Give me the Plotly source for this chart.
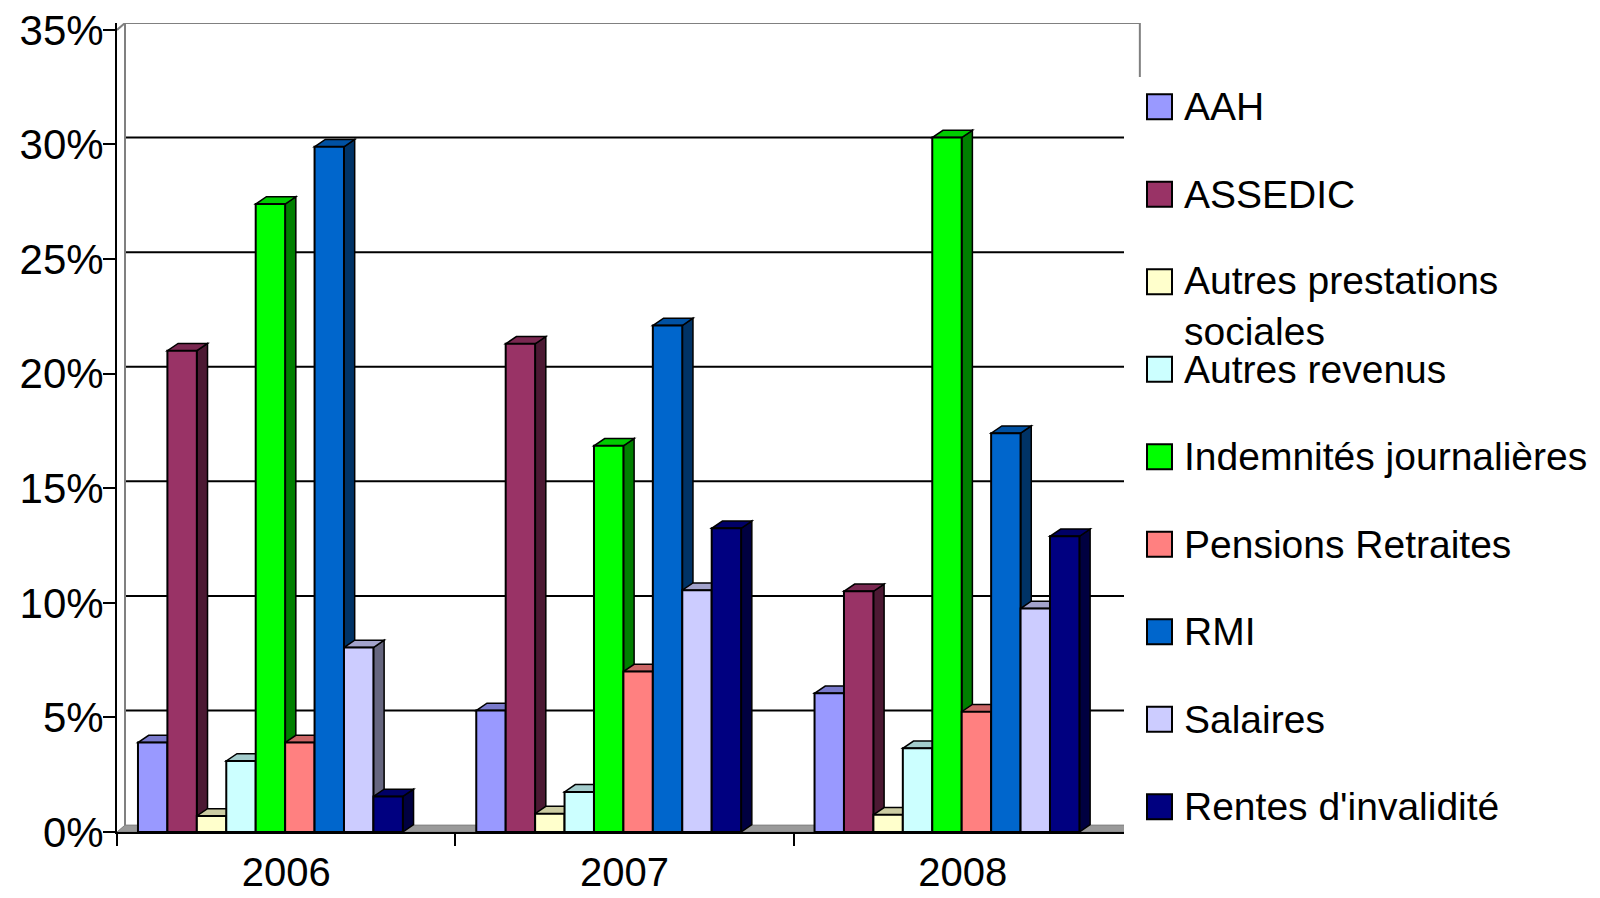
import plotly.graph_objects as go

years = ["2006", "2007", "2008"]
series_names = [
    "AAH",
    "ASSEDIC",
    "Autres prestations<br>sociales",
    "Autres revenus",
    "Indemnités journalières",
    "Pensions Retraites",
    "RMI",
    "Salaires",
    "Rentes d'invalidité",
]
aah = [3.9, 5.3, 6.05]
assedic = [21.0, 21.3, 10.5]
autres_prestations = [0.7, 0.8, 0.75]
autres_revenus = [3.1, 1.75, 3.65]
indemnites = [27.4, 16.85, 30.3]
pensions = [3.9, 7.0, 5.25]
rmi = [29.9, 22.1, 17.4]
salaires = [8.05, 10.55, 9.75]
rentes = [1.55, 13.25, 12.9]
y_ticks = [0, 5, 10, 15, 20, 25, 30, 35]

series_values = [aah, assedic, autres_prestations, autres_revenus, indemnites,
                 pensions, rmi, salaires, rentes]
colors = ["#9999FF", "#993366", "#FFFFCC", "#CCFFFF", "#00FF00",
          "#FF8080", "#0066CC", "#CCCCFF", "#000080"]

FONT = "Liberation Sans, Arial, sans-serif"


def shade(hex_color, f):
    r, g, b = (int(hex_color[k:k + 2], 16) for k in (1, 3, 5))
    return "#%02x%02x%02x" % (int(r * f), int(g * f), int(b * f))


# pixel geometry of the plot area
W, H = 1600, 898
L, R, T, B = 117, 458, 23, 66
x_range = [-0.5, 2.53]
y_range = [0, 35.3]
px_x = (W - L - R) / (x_range[1] - x_range[0])
px_y = (H - T - B) / (y_range[1] - y_range[0])

bar_w = 0.087
group_start = -0.438
dx, dy = 10.7 / px_x, 7.3 / px_y      # bar depth
dxw, dyw = 8 / px_x, 0.3              # wall depth

fig = go.Figure()
shapes = []

# floor
shapes.append(dict(type="path", xref="x", yref="y", layer="below",
                   path=f"M-0.5,0 L2.5,0 L{2.5 + dxw},{dyw} L{-0.5 + dxw},{dyw} Z",
                   fillcolor="#9a9a9a", line=dict(color="#808080", width=1)))
# back wall gridlines
for v in y_ticks[1:-1]:
    shapes.append(dict(type="line", xref="x", yref="y", layer="below",
                       x0=-0.5 + dxw, x1=2.5 + dxw, y0=v + dyw, y1=v + dyw,
                       line=dict(color="black", width=2)))
# wall edges
wall = "#808080"
top = y_ticks[-1]
shapes.append(dict(type="line", xref="x", yref="y", layer="below",
                   x0=-0.5 + dxw, x1=2.5 + dxw, y0=top + dyw, y1=top + dyw,
                   line=dict(color=wall, width=2)))
shapes.append(dict(type="line", xref="x", yref="y", layer="below",
                   x0=2.5 + dxw, x1=2.5 + dxw, y0=dyw, y1=top + dyw,
                   line=dict(color=wall, width=2)))
shapes.append(dict(type="line", xref="x", yref="y", layer="below",
                   x0=-0.5 + dxw, x1=-0.5 + dxw, y0=dyw, y1=top + dyw,
                   line=dict(color=wall, width=2)))
shapes.append(dict(type="line", xref="x", yref="y", layer="below",
                   x0=-0.5, x1=-0.5 + dxw, y0=top, y1=top + dyw,
                   line=dict(color=wall, width=2)))

x_pos = list(range(len(years)))
for i, (name, vals, col) in enumerate(zip(series_names, series_values, colors)):
    off = group_start + i * bar_w
    fig.add_trace(go.Bar(
        x=x_pos, y=vals, name=name.replace("<br>", " "),
        offset=off, width=bar_w,
        marker=dict(color=col, line=dict(color="black", width=2)),
        showlegend=False,
    ))
    # 3D side and top faces
    for j, h in zip(x_pos, vals):
        x0 = j + off
        x1 = x0 + bar_w
        shapes.append(dict(
            type="path", xref="x", yref="y", layer="below",
            path=f"M{x1},0 L{x1 + dx},{dy} L{x1 + dx},{h + dy} L{x1},{h} Z",
            fillcolor=shade(col, 0.5), line=dict(color="black", width=1.5)))
        shapes.append(dict(
            type="path", xref="x", yref="y", layer="below",
            path=f"M{x0},{h} L{x1},{h} L{x1 + dx},{h + dy} L{x0 + dx},{h + dy} Z",
            fillcolor=shade(col, 0.8), line=dict(color="black", width=1.5)))


def paper_x(px):
    return (px - L) / (W - L - R)


def paper_y(py):
    return (H - B - py) / (H - T - B)


# legend box (white background over the chart's right edge)
shapes.append(dict(type="rect", xref="paper", yref="paper", layer="above",
                   x0=paper_x(1124), x1=paper_x(1600), y0=paper_y(898), y1=paper_y(77),
                   fillcolor="white", line=dict(width=0)))

annotations = []
row0, row_step = 106.7, 87.5
for i, (name, col) in enumerate(zip(series_names, colors)):
    cy = row0 + i * row_step
    shapes.append(dict(type="rect", xref="paper", yref="paper", layer="above",
                       x0=paper_x(1147), x1=paper_x(1172),
                       y0=paper_y(cy + 12.5), y1=paper_y(cy - 12.5),
                       fillcolor=col, line=dict(color="black", width=2)))
    multi = "<br>" in name
    annotations.append(dict(
        xref="paper", yref="paper", x=paper_x(1182),
        y=paper_y(cy - 25) if multi else paper_y(cy),
        xanchor="left", yanchor="top" if multi else "middle",
        text=name, showarrow=False, align="left",
        font=dict(family=FONT, size=39, color="black"),
    ))

fig.update_layout(
    width=W, height=H,
    margin=dict(l=L, r=R, t=T, b=B, autoexpand=False),
    paper_bgcolor="white", plot_bgcolor="white",
    barmode="overlay",
    shapes=shapes,
    annotations=annotations,
    font=dict(family=FONT, size=41, color="black"),
    xaxis=dict(
        range=x_range, tickmode="array", tickvals=x_pos, ticktext=years,
        ticks="outside", ticklen=12, tickcolor="rgba(0,0,0,0)",
        ticklabelstandoff=-8,
        minor=dict(tick0=0.5, dtick=1, ticks="outside", ticklen=12,
                   tickwidth=2, tickcolor="black", showgrid=False),
        showgrid=False, zeroline=False, automargin=False,
        showline=True, linecolor="black", linewidth=2,
        tickfont=dict(size=40),
    ),
    yaxis=dict(
        range=y_range, tickmode="array", tickvals=y_ticks,
        ticktext=[f"{v}%" for v in y_ticks],
        ticks="outside", ticklen=12, tickwidth=2, tickcolor="black",
        ticklabelstandoff=-9,
        showgrid=False, zeroline=False, automargin=False,
        showline=True, linecolor="black", linewidth=2,
        tickfont=dict(size=42),
    ),
)

# drop the page's default body margin so the figure sits at the window corner
fig.write_html("out.html", config={"displayModeBar": False},
               post_script="document.body.style.margin='0';")
